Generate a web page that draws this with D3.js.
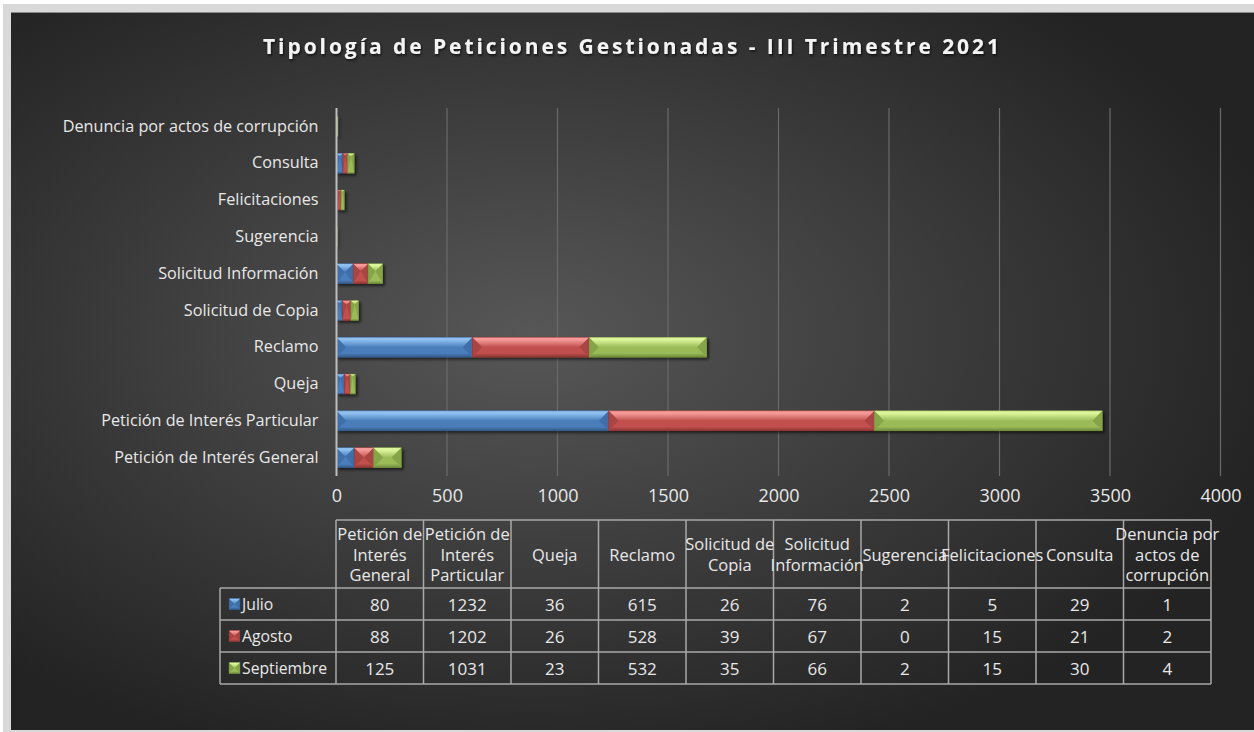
<!DOCTYPE html>
<html><head><meta charset="utf-8">
<script src="https://cdn.jsdelivr.net/npm/d3@7"></script>
<style>html,body{margin:0;padding:0;background:#fff;overflow:hidden}</style>
</head><body>
<svg id="c" width="1254" height="732"></svg>
<script>
const categories = ["Petición de Interés General","Petición de Interés Particular","Queja","Reclamo","Solicitud de Copia","Solicitud Información","Sugerencia","Felicitaciones","Consulta","Denuncia por actos de corrupción"];
const headerLines = [["Petición de","Interés","General"],["Petición de","Interés","Particular"],["Queja"],["Reclamo"],["Solicitud de","Copia"],["Solicitud","Información"],["Sugerencia"],["Felicitaciones"],["Consulta"],["Denuncia por","actos de","corrupción"]];
const seriesNames = ["Julio","Agosto","Septiembre"];
const julio = [80,1232,36,615,26,76,2,5,29,1];
const agosto = [88,1202,26,528,39,67,0,15,21,2];
const septiembre = [125,1031,23,532,35,66,2,15,30,4];
const xTicks = [0,500,1000,1500,2000,2500,3000,3500,4000];
const title = "Tipología de Peticiones Gestionadas - III Trimestre 2021";

const series = [julio, agosto, septiembre];
const palette = [
  {base:"#4a7ebb", light:"#8fc0f0", dark:"#33598a", side:"#3f6ea8"},
  {base:"#c0504d", light:"#f59a98", dark:"#8c3533", side:"#a94442"},
  {base:"#9bbb59", light:"#dcf59a", dark:"#6e8a3a", side:"#86a549"}
];
const FONT = "'Open Sans', Lato, sans-serif";
const txt = "#e8e8e8";

const svg = d3.select("#c");
const defs = svg.append("defs");

function fitSize(str, base, target, weight){
  const t = svg.append("text").attr("font-family",FONT).attr("font-size",base).attr("font-weight",weight||"normal").text(str);
  const w = t.node().getComputedTextLength();
  t.remove();
  return base*target/w;
}

svg.append("rect").attr("x",0).attr("y",0).attr("width",1254).attr("height",732).attr("fill","#ffffff");
svg.append("rect").attr("x",3).attr("y",4).attr("width",1251).attr("height",728).attr("fill","#d9d9d9");
const bg = defs.append("radialGradient").attr("id","bg").attr("cx","0.42").attr("cy","0.45").attr("r","0.62");
bg.append("stop").attr("offset","0").attr("stop-color","#575757");
bg.append("stop").attr("offset","1").attr("stop-color","#232323");
svg.append("rect").attr("x",11).attr("y",12).attr("width",1243).attr("height",718).attr("fill","url(#bg)");
svg.append("line").attr("x1",11).attr("x2",1254).attr("y1",12.5).attr("y2",12.5).attr("stroke","#8a8a8a").attr("stroke-width",1);

palette.forEach((p,i)=>{
  const gt = defs.append("linearGradient").attr("id","top"+i).attr("x1",0).attr("y1",0).attr("x2",0).attr("y2",1);
  gt.append("stop").attr("offset","0").attr("stop-color",p.light);
  gt.append("stop").attr("offset","0.25").attr("stop-color",p.light);
  gt.append("stop").attr("offset","1").attr("stop-color",p.base);
  const gb = defs.append("linearGradient").attr("id","bot"+i).attr("x1",0).attr("y1",0).attr("x2",0).attr("y2",1);
  gb.append("stop").attr("offset","0").attr("stop-color",p.base);
  gb.append("stop").attr("offset","0.6").attr("stop-color",p.base);
  gb.append("stop").attr("offset","1").attr("stop-color",p.dark);
});
const sh = defs.append("filter").attr("id","sh").attr("x","-20%").attr("y","-40%").attr("width","150%").attr("height","200%");
sh.append("feDropShadow").attr("dx",2).attr("dy",2).attr("stdDeviation",1.5).attr("flood-color","#000").attr("flood-opacity",0.6);
const tsh = defs.append("filter").attr("id","tsh").attr("x","-5%").attr("y","-50%").attr("width","110%").attr("height","200%");
tsh.append("feDropShadow").attr("dx",1).attr("dy",1.5).attr("stdDeviation",1).attr("flood-color","#000").attr("flood-opacity",0.7);

const titleSize = 21;
const tt = svg.append("text").attr("x",631).attr("y",46).attr("text-anchor","middle").attr("dominant-baseline","central")
  .attr("font-family",FONT).attr("font-weight","bold").attr("font-size",titleSize)
  .attr("fill","#f4f4f4").attr("filter","url(#tsh)").text(title);
const tw = tt.node().getComputedTextLength();
const ls = Math.max(0,(736 - tw)/(title.length-1));
tt.attr("letter-spacing", ls+"px").attr("x", 631 + ls/2);

const x = d3.scaleLinear().domain([0,4000]).range([336.5,1220.5]);
const y = d3.scaleBand().domain(categories).range([476,108]).paddingInner(0.46).paddingOuter(0.23);

svg.append("g").selectAll("line").data(xTicks.slice(1)).join("line")
  .attr("x1",d=>x(d)).attr("x2",d=>x(d)).attr("y1",108).attr("y2",476)
  .attr("stroke","#6a6a6a").attr("stroke-width",1.2);

const tickSize = Math.min(18, fitSize("4000", 17, 47));
const xAxis = svg.append("g").attr("transform","translate(0,476)")
  .call(d3.axisBottom(x).tickValues(xTicks).tickSize(0).tickPadding(13).tickFormat(d3.format("d")));
xAxis.select(".domain").remove();
xAxis.selectAll("text").attr("font-family",FONT).attr("font-size",tickSize).attr("fill",txt);

const labSize = fitSize("Denuncia por actos de corrupción", 15, 256);
const yAxis = svg.append("g").attr("transform","translate(336.5,0)")
  .call(d3.axisLeft(y).tickSize(0).tickPadding(18));
yAxis.select(".domain").remove();
yAxis.selectAll("text").attr("font-family",FONT).attr("font-size",labSize).attr("fill",txt);

function bevel(g, x0, x1, y0, y1, ci){
  const w = x1-x0, h = y1-y0;
  if (w <= 0) return;
  const gg = g.append("g");
  if (w < 1.5){
    gg.append("rect").attr("x",x0).attr("y",y0).attr("width",w).attr("height",h).attr("fill",palette[ci].base);
    return;
  }
  const b = Math.min(h/2, w/2);
  gg.append("rect").attr("x",x0).attr("y",y0).attr("width",w).attr("height",h).attr("fill",palette[ci].base);
  gg.append("polygon").attr("points",[[x0,y0],[x0+b,y0+b],[x0,y1]].join(" ")).attr("fill",palette[ci].side);
  gg.append("polygon").attr("points",[[x1,y0],[x1-b,y0+b],[x1,y1]].join(" ")).attr("fill",palette[ci].side);
  gg.append("polygon").attr("points",[[x0,y0],[x1,y0],[x1-b,y0+b],[x0+b,y0+b]].join(" ")).attr("fill",`url(#top${ci})`);
  gg.append("polygon").attr("points",[[x0,y1],[x1,y1],[x1-b,y1-b],[x0+b,y1-b]].join(" ")).attr("fill",`url(#bot${ci})`);
  gg.append("rect").attr("x",x0).attr("y",y0).attr("width",w).attr("height",h).attr("fill","none")
    .attr("stroke",palette[ci].dark).attr("stroke-width",0.6).attr("stroke-opacity",0.7);
}
const barsG = svg.append("g").attr("filter","url(#sh)");
categories.forEach((c,i)=>{
  let acc = 0;
  series.forEach((s,si)=>{
    const v = s[i];
    bevel(barsG, x(acc), x(acc+v), y(c), y(c)+y.bandwidth(), si);
    acc += v;
  });
});

svg.append("line").attr("x1",336.5).attr("x2",336.5).attr("y1",108).attr("y2",476)
  .attr("stroke","#bdbdbd").attr("stroke-width",2);

const tX0 = 336, colW = 87.5, legX = 220;
const rowsY = [520, 588, 620, 652, 684];
const tg = svg.append("g");
const lineC = "#a8a8a8";
const cellSize = fitSize("Petición de", 15, 85);
const rowSize = fitSize("Septiembre", 15, 85);
tg.append("line").attr("x1",tX0).attr("x2",tX0+colW*10).attr("y1",rowsY[0]).attr("y2",rowsY[0]).attr("stroke",lineC).attr("stroke-width",1.5);
for (let r=1;r<rowsY.length;r++){
  tg.append("line").attr("x1",legX).attr("x2",tX0+colW*10).attr("y1",rowsY[r]).attr("y2",rowsY[r]).attr("stroke",lineC).attr("stroke-width",1.5);
}
tg.append("line").attr("x1",legX).attr("x2",legX).attr("y1",rowsY[1]).attr("y2",rowsY[4]).attr("stroke",lineC).attr("stroke-width",1.5);
for (let c=0;c<=10;c++){
  tg.append("line").attr("x1",tX0+c*colW).attr("x2",tX0+c*colW).attr("y1",rowsY[0]).attr("y2",rowsY[4]).attr("stroke",lineC).attr("stroke-width",1.5);
}
headerLines.forEach((lines,i)=>{
  const cx = tX0 + colW*(i+0.5);
  const lh = 20.5;
  const mid = (rowsY[0]+rowsY[1])/2;
  const start = mid - (lines.length-1)*lh/2;
  const t = tg.append("text").attr("text-anchor","middle").attr("font-family",FONT).attr("font-size",cellSize).attr("fill",txt);
  lines.forEach((ln,k)=>{
    t.append("tspan").attr("x",cx).attr("y",start+k*lh).attr("dominant-baseline","central").text(ln);
  });
});
series.forEach((s,si)=>{
  const cy = (rowsY[si+1]+rowsY[si+2])/2;
  const kg = tg.append("g");
  bevel(kg, 229, 240, cy-5.5, cy+5.5, si);
  tg.append("text").attr("x",242).attr("y",cy).attr("dominant-baseline","central")
    .attr("font-family",FONT).attr("font-size",rowSize).attr("fill",txt).text(seriesNames[si]);
  s.forEach((v,i)=>{
    tg.append("text").attr("x",tX0+colW*(i+0.5)).attr("y",cy).attr("text-anchor","middle").attr("dominant-baseline","central")
      .attr("font-family",FONT).attr("font-size",cellSize*1.03).attr("fill",txt).text(v);
  });
});
</script>
</body></html>
